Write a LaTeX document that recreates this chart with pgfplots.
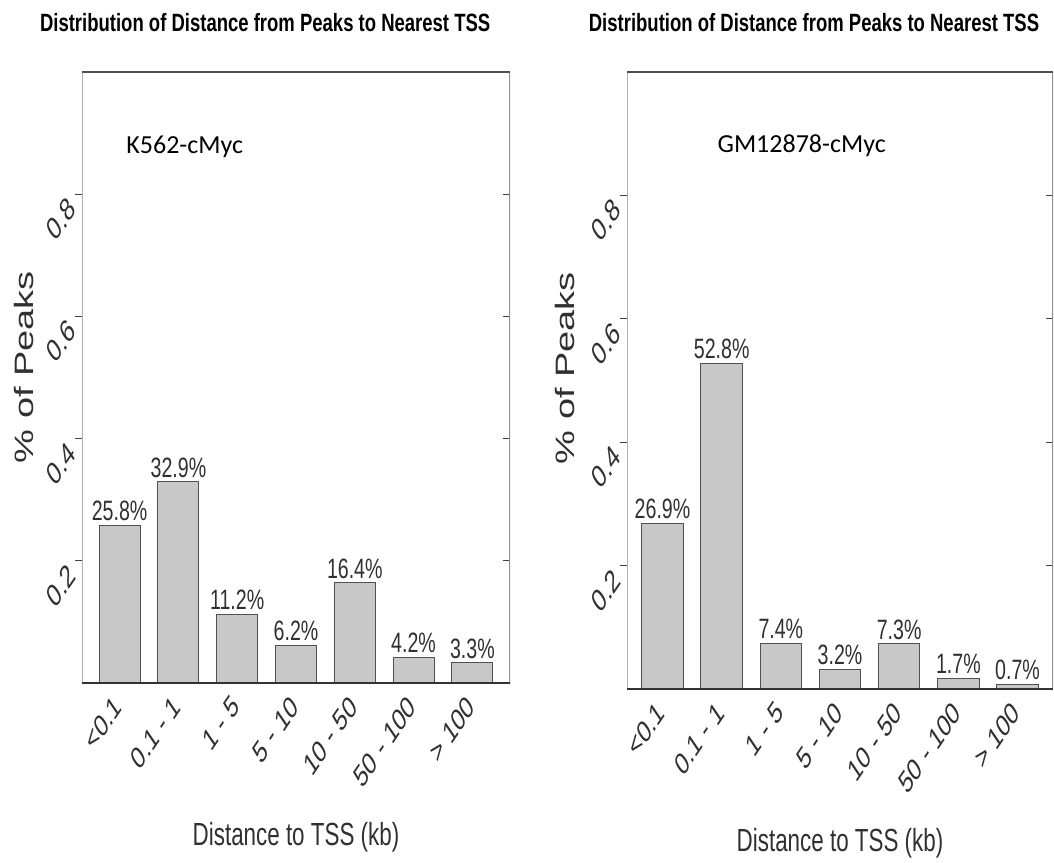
\documentclass[border=0pt]{standalone}
\usepackage{fontspec}
\setmainfont{Liberation Sans}
\newfontfamily\calfont{Carlito}
\usepackage{graphicx}
\usepackage{pgfplots}
\pgfplotsset{compat=1.18}
\definecolor{barfill}{HTML}{C8C8C8}
\definecolor{baredge}{HTML}{505050}
\definecolor{leftline}{HTML}{B0B0B0}
\definecolor{rightline}{HTML}{909090}
\definecolor{topline}{HTML}{505050}
\definecolor{txt}{HTML}{303030}
\newcommand{\rl}[1]{\scalebox{0.68}[1]{\rotatebox{45}{#1}}}
\newcommand{\sq}[2]{\scalebox{#1}[1]{#2}}
\pgfplotsset{
  myax/.style={
    scale only axis,
    ymin=0, ymax=1,
    axis line style={draw=none},
    ybar, bar width=0.7,
    ytick={0.2,0.4,0.6,0.8},
    yticklabels={\rl{0.2},\rl{0.4},\rl{0.6},\rl{0.8}},
    ytick pos=both, yticklabel pos=left,
    tick align=center, major tick length=7pt,
    ytick style={xshift=-3.5pt, draw=black!75, line width=0.8pt},
    yticklabel style={anchor=north east, font=\fontsize{32}{32}\selectfont, text=txt, inner sep=1pt},
    xtick={0,...,6},
    xticklabels={\rl{<0.1},\rl{0.1 - 1},\rl{1 - 5},\rl{5 - 10},\rl{10 - 50},\rl{50 - 100},\rl{> 100}},
    xtick style={draw=none},
    xticklabel style={anchor=north east, font=\fontsize{31}{31}\selectfont, text=txt, inner sep=1pt, xshift=5pt, yshift=-6pt},
    point meta=explicit symbolic,
    nodes near coords={\sq{0.7}{\pgfplotspointmeta}},
    every node near coord/.append style={font=\fontsize{28}{28}\selectfont, text=txt, anchor=south, inner sep=0pt, yshift=4pt},
    title style={anchor=base, font=\bfseries\fontsize{25}{25}\selectfont, yshift=34pt},
    xlabel style={at={(axis description cs:0.5,0)}, anchor=base, yshift=-162pt, font=\fontsize{32}{32}\selectfont, text=txt},
    ylabel style={anchor=center, font=\fontsize{38}{38}\selectfont, text=txt},
    ylabel={\scalebox{1}[0.7]{\% of Peaks}},
    xlabel={\sq{0.7}{Distance to TSS (kb)}},
    title={\sq{0.74}{Distribution of Distance from Peaks to Nearest TSS}},
  },
  mybar/.style={fill=barfill, draw=baredge, line width=1pt},
}
\begin{document}
\begin{tikzpicture}
\useasboundingbox (0pt,0pt) rectangle (1054pt,862pt);
% Left panel
\begin{axis}[myax,
  at={(82pt,179pt)}, anchor=south west,
  width=428pt, height=611pt,
  xmin=-0.64, xmax=6.64,
  title style={at={(axis description cs:0.428,1)}},
  ylabel style={at={(axis description cs:-0.1355,0.517)}},
]
\addplot[mybar] coordinates {
  (0,0.258) [25.8\%]
  (1,0.329) [32.9\%]
  (2,0.112) [11.2\%]
  (3,0.062) [6.2\%]
  (4,0.164) [16.4\%]
  (5,0.042) [4.2\%]
  (6,0.033) [3.3\%]
};
\draw[leftline, line width=2.5pt] (axis description cs:0,0) -- (axis description cs:0,1);
\draw[rightline, line width=1.6pt] (axis description cs:1,0) -- (axis description cs:1,1);
\draw[topline, line width=1.6pt] (axis description cs:-0.012,1) -- (axis description cs:1,1);
\draw[black!80, line width=1.6pt] (axis description cs:-0.01,0) -- (axis description cs:1.01,0);
\node[anchor=base, font=\calfont\fontsize{26}{26}\selectfont] at (axis description cs:0.24,0.867) {K562-cMyc};
\end{axis}
% Right panel
\begin{axis}[myax,
  at={(627pt,173pt)}, anchor=south west,
  width=426pt, height=617pt,
  xmin=-0.6, xmax=6.6,
  title style={at={(axis description cs:0.439,1)}},
  ylabel style={at={(axis description cs:-0.1455,0.52)}},
]
\addplot[mybar] coordinates {
  (0,0.269) [26.9\%]
  (1,0.528) [52.8\%]
  (2,0.074) [7.4\%]
  (3,0.032) [3.2\%]
  (4,0.073) [7.3\%]
  (5,0.017) [1.7\%]
  (6,0.007) [0.7\%]
};
\draw[leftline, line width=2.5pt] (axis description cs:0,0) -- (axis description cs:0,1);
\draw[rightline, line width=1.6pt] (axis description cs:1,0) -- (axis description cs:1,1);
\draw[topline, line width=1.6pt] (axis description cs:-0.012,1) -- (axis description cs:1,1);
\draw[black!80, line width=1.6pt] (axis description cs:-0.012,0) -- (axis description cs:1,0);
\node[anchor=base, font=\calfont\fontsize{26}{26}\selectfont] at (axis description cs:0.41,0.87) {GM12878-cMyc};
\end{axis}
\end{tikzpicture}
\end{document}
